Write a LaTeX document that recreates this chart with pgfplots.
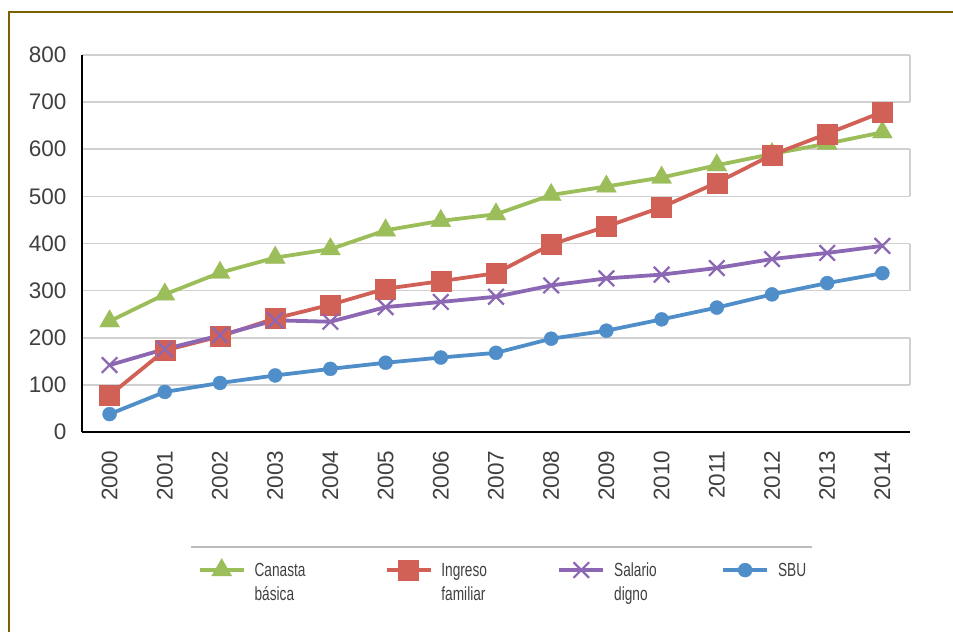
\documentclass[border=0pt]{standalone}
\usepackage{fontspec}
\setmainfont{Liberation Sans}
\newfontfamily\narrowfont{Liberation Sans}[FakeStretch=0.72]
\usepackage{pgfplots}
\pgfplotsset{compat=1.18}
\usepackage{pgfplotstable}

\definecolor{cgreen}{RGB}{155,189,90}
\definecolor{cred}{RGB}{209,96,87}
\definecolor{cpurple}{RGB}{140,104,180}
\definecolor{cblue}{RGB}{80,142,202}
\definecolor{cgrid}{RGB}{208,208,208}
\definecolor{ctext}{RGB}{64,64,64}
\definecolor{cframe}{RGB}{125,96,0}

% Year index (0 = 2000) and monthly values per series
\pgfplotstableread{
x canasta ingreso salario sbu
0  235 78  142 38
1  292 173 176 85
2  338 203 205 104
3  370 241 237 120
4  388 270 234 134
5  428 304 265 147
6  448 320 276 158
7  462 337 287 168
8  503 398 311 198
9  521 436 326 215
10 540 477 334 239
11 566 529 348 264
12 590 588 367 292
13 612 633 380 316
14 636 679 395 337
}\datatable

\newcommand{\entry}[2]{\parbox[t]{#1}{\baselineskip=24pt #2}}

\begin{document}
\begin{tikzpicture}[x=1pt,y=1pt]
\useasboundingbox (0,0) rectangle (953,632);
% outer frame (top and left edges)
\draw[cframe, line width=2pt] (9,0) -- (9,620) -- (953,620);

\begin{axis}[
  at={(82pt,200pt)}, anchor=south west,
  scale only axis, width=828pt, height=377pt,
  xmin=-0.5, xmax=14.5, ymin=0, ymax=800,
  xtick={0,...,14},
  xticklabels={2000,2001,2002,2003,2004,2005,2006,2007,2008,2009,2010,2011,2012,2013,2014},
  ytick={0,100,...,800},
  major tick length=0pt,
  axis x line*=bottom, axis y line*=left,
  axis line style={-, black, line width=1.8pt},
  ymajorgrids, major grid style={cgrid, line width=1.6pt},
  /pgf/number format/assume math mode=true,
  tick label style={font=\fontsize{22.5}{24}\selectfont, text=ctext},
  y tick label style={xshift=-12pt},
  x tick label style={rotate=90, anchor=east, xshift=-15pt},
  clip=false,
  legend columns=4,
  legend style={at={(0.136,-0.33)}, anchor=north west, draw=none, fill=none,
    font=\narrowfont\fontsize{19}{24}\selectfont, text=ctext,
    nodes={inner sep=0pt, anchor=base west},
    /tikz/every odd column/.append style={column sep=9pt},
    /tikz/every even column/.append style={column sep=0pt}},
  legend cell align=left,
  legend image code/.code={%
    \draw[mark repeat=2, mark phase=2, #1, yshift=6pt]
      plot coordinates {(0pt,0pt) (22pt,0pt) (44pt,0pt)};},
]
% right edges of the alternating grid bands
\foreach \lo in {100,300,500,700}{
  \edef\tmp{\noexpand\draw[cgrid, line width=1.6pt] (axis cs:14.5,\lo) -- (axis cs:14.5,\the\numexpr\lo+100\relax);}
  \tmp
}

\addplot[cgreen, line width=3.8pt, mark=triangle*, mark size=11.5pt, mark options={solid, line width=0.4pt}]
  table[x=x, y=canasta] {\datatable};
\addlegendentry{\entry{130pt}{Canasta\\básica}}
\addplot[cred, line width=3.8pt, mark=square*, mark size=10pt, mark options={solid, line width=0.4pt}]
  table[x=x, y=ingreso] {\datatable};
\addlegendentry{\entry{116pt}{Ingreso\\familiar}}
\addplot[cpurple, line width=3.8pt, mark=x, mark size=11pt, mark options={solid, line width=2.2pt}]
  table[x=x, y=salario] {\datatable};
\addlegendentry{\entry{107pt}{Salario\\digno}}
\addplot[cblue, line width=3.8pt, mark=*, mark size=7pt, mark options={solid, line width=0.4pt}]
  table[x=x, y=sbu] {\datatable};
\addlegendentry{\entry{60pt}{SBU}}
\end{axis}

% rule above the legend
\draw[cgrid!90!black, line width=2pt] (191,85) -- (812,85);
\end{tikzpicture}
\end{document}
